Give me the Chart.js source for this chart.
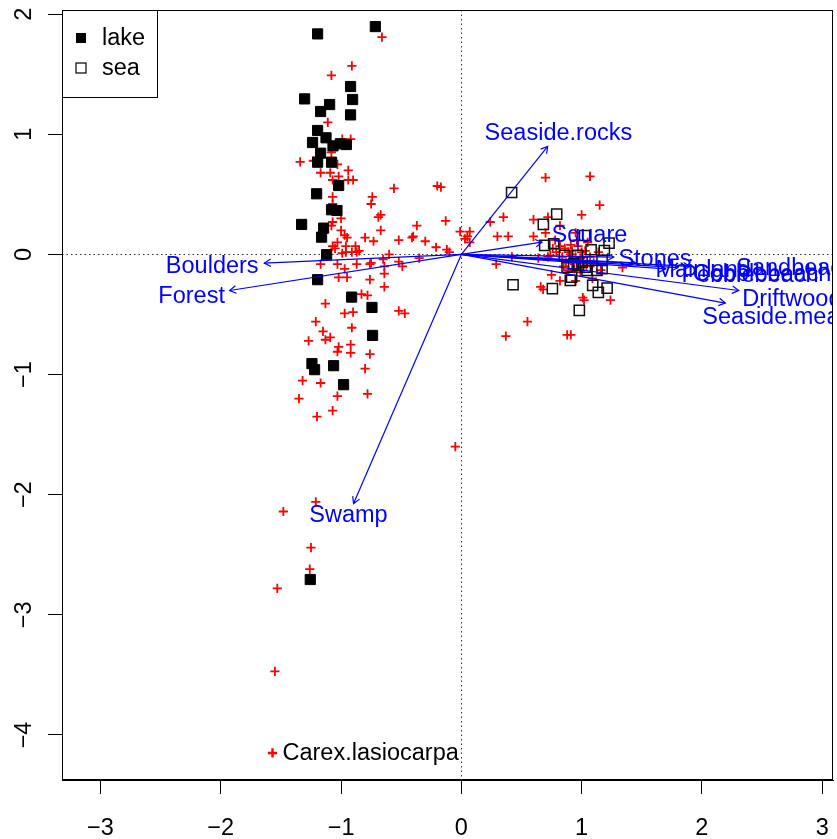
<!DOCTYPE html>
<html><head><meta charset="utf-8">
<script src="https://cdn.jsdelivr.net/npm/chart.js@4/dist/chart.umd.min.js"></script>
<style>html,body{margin:0;padding:0;background:#fff;}#wrap{width:837px;height:839px;}</style>
</head><body><div id="wrap"><canvas id="c" width="837" height="839"></canvas></div>
<script>
// ---- data (ordination scores) ----
const lakeX = [-0.715,-1.195,-0.921,-1.303,-0.904,-1.095,-1.170,-0.921,-1.195,-1.125,-1.237,-1.067,-1.006,-0.956,-1.170,-1.195,-1.079,-1.020,-1.203,-1.079,-1.034,-1.328,-1.145,-1.162,-1.120,-1.195,-0.912,-0.743,-0.738,-1.242,-1.220,-1.062,-0.979,-1.256];
const lakeY = [1.897,1.836,1.398,1.295,1.290,1.248,1.190,1.162,1.032,0.971,0.932,0.904,0.921,0.915,0.843,0.768,0.768,0.574,0.505,0.372,0.366,0.250,0.219,0.144,-0.002,-0.210,-0.355,-0.441,-0.674,-0.909,-0.959,-0.926,-1.084,-2.706];
const seaX = [0.418,0.793,0.682,1.025,0.693,0.768,1.228,1.189,1.079,0.857,0.967,0.975,1.170,1.170,1.128,0.879,0.430,0.757,0.917,0.906,1.092,1.212,1.139,0.981,1.031,1.004,0.934,1.045];
const seaY = [0.516,0.335,0.250,0.158,0.075,0.089,0.094,0.033,0.039,-0.008,-0.008,-0.092,-0.050,-0.119,-0.133,-0.106,-0.252,-0.285,-0.189,-0.216,-0.258,-0.280,-0.316,-0.466,-0.106,-0.064,-0.077,-0.133];
const sppX = [-0.66,-0.91,-1.08,-1.11,-0.92,-0.99,-1.34,-1.23,-1.08,-1.03,-1.17,-1.09,-1.02,-0.94,-1.07,-0.94,-0.90,-0.56,-1.07,-0.74,-0.75,-1.07,-0.69,-0.67,-1.00,-1.07,-1.08,-0.67,-1.00,-0.97,-0.95,-0.80,-0.73,-1.03,-1.07,-0.96,-0.88,-0.96,-0.91,-0.87,-0.99,-1.05,-0.60,-0.65,-0.52,-1.17,-1.03,-0.87,-0.76,-0.97,-0.64,-1.02,-0.95,-0.76,-0.64,-0.83,-0.78,-1.13,-0.52,-0.97,-0.90,-0.91,-1.21,-1.15,-1.09,-1.13,-1.27,-1.02,-0.92,-1.03,-0.92,-0.76,-0.80,-1.32,-1.17,-0.78,-1.03,-1.35,-1.07,-1.20,-0.47,-0.49,-0.52,-0.35,-0.21,-0.12,-0.10,-0.05,-1.21,-1.48,-1.25,-1.26,-1.53,-1.55,-0.20,-0.17,-0.13,-0.37,-0.01,0.07,0.05,0.03,-0.40,-0.41,-0.30,0.07,-0.85,-0.64,-0.75,0.70,1.07,1.15,1.00,0.24,0.35,0.60,0.72,0.82,0.30,0.39,0.60,0.29,0.42,0.64,0.74,0.75,0.66,0.68,1.34,1.01,1.02,1.24,0.55,0.37,0.88,0.91,0.86,0.89,0.92,0.95,0.97,0.99,0.91,0.87,1.01,1.04,0.94,0.91,0.84,0.96,1.07,0.82,0.89,0.99,1.03,0.79,0.76,0.72,1.10,0.85,0.96,1.00,0.91,1.05,0.78,0.95,0.70,1.14,1.16,1.09,0.82,0.95];
const sppY = [1.81,1.57,1.49,1.10,0.96,0.96,0.77,0.78,0.85,0.75,0.68,0.68,0.65,0.70,0.62,0.62,0.62,0.55,0.48,0.48,0.42,0.42,0.31,0.33,0.30,0.27,0.24,0.20,0.20,0.16,0.14,0.14,0.11,0.10,0.07,0.07,0.07,0.02,0.02,0.02,0.01,0.05,0.00,-0.04,0.12,-0.08,-0.08,-0.08,-0.08,-0.12,-0.16,-0.19,-0.19,-0.21,-0.27,-0.33,-0.34,-0.41,-0.47,-0.49,-0.48,-0.61,-0.56,-0.64,-0.69,-0.71,-0.72,-0.77,-0.75,-0.81,-0.82,-0.83,-0.95,-1.05,-1.07,-1.16,-1.18,-1.20,-1.30,-1.35,-0.49,-0.10,-0.06,-0.03,0.06,0.04,0.02,-1.60,-2.06,-2.14,-2.44,-2.62,-2.78,-3.47,0.57,0.56,0.28,0.24,0.19,0.19,0.15,0.13,0.15,0.14,0.11,0.10,0.03,-0.10,-0.07,0.64,0.65,0.41,0.33,0.27,0.31,0.29,0.31,0.24,0.15,0.15,0.15,-0.08,-0.02,-0.03,-0.01,-0.17,-0.27,-0.29,-0.11,-0.36,-0.38,-0.38,-0.56,-0.68,-0.67,-0.67,0.05,0.02,0.03,-0.02,0.07,-0.03,-0.05,-0.07,-0.07,-0.10,-0.12,0.08,-0.02,0.12,-0.02,0.07,-0.13,-0.15,0.03,0.02,0.05,-0.02,-0.07,-0.10,-0.07,0.02,0.00,0.10,0.12,0.18,0.18,0.02,-0.13,-0.20,-0.22,-0.22];
const namedSpp = ['Carex.lasiocarpa'];
const namedSppX = [-1.57];
const namedSppY = [-4.15];
const envNames = ['Seaside.rocks','Boulders','Forest','Swamp','Square','Stones','Mainland','Sandbeach','Pebblebeach','Cobblebeach','Driftwood','Seaside.meadow'];
const envX = [0.718,-1.638,-1.927,-0.896,0.671,1.267,1.45,1.90,1.70,1.80,2.306,2.195];
const envY = [0.900,-0.072,-0.300,-2.074,0.102,-0.022,-0.07,-0.10,-0.12,-0.11,-0.300,-0.405];
const envLabX = [0.807,-2.071,-2.242,-0.938,1.065,1.610,2.01,2.78,2.40,2.50,2.748,2.753];
const envLabY = [1.007,-0.097,-0.350,-2.170,0.160,-0.042,-0.13,-0.12,-0.175,-0.17,-0.371,-0.527];
const xTicks = [-3,-2,-1,0,1,2,3];
const yTicks = [-4,-3,-2,-1,0,1,2];
const legendLabels = ['lake','sea'];

// ---- helpers ----
const FONT = "'Liberation Sans', Arial, Helvetica, sans-serif";
const FS = 23.5;
const fmt = v => (v < 0 ? '\u2212' + Math.abs(v) : String(v));
const pts = (xs, ys) => xs.map((v, i) => ({x: v, y: ys[i]}));

const arrowSets = envNames.map((n, i) => ({
  label: n, data: [{x: 0, y: 0}, {x: envX[i], y: envY[i]}],
  showLine: true, borderColor: '#0000ff', borderWidth: 1.2, pointRadius: 0, order: 0
}));

const biplot = {
  id: 'biplot',
  beforeDatasetsDraw(chart) {
    const {ctx, chartArea: a, scales: {x, y}} = chart;
    ctx.save();
    ctx.strokeStyle = '#333'; ctx.lineWidth = 1; ctx.setLineDash([1.5, 3]);
    const px = Math.round(x.getPixelForValue(0)) + 0.5, py = Math.round(y.getPixelForValue(0)) + 0.5;
    ctx.beginPath();
    ctx.moveTo(a.left, py); ctx.lineTo(a.right, py);
    ctx.moveTo(px, a.top); ctx.lineTo(px, a.bottom);
    ctx.stroke();
    ctx.restore();
  },
  afterDatasetsDraw(chart) {
    const {ctx, chartArea: a, scales: {x, y}} = chart;
    ctx.save();
    ctx.beginPath(); ctx.rect(a.left, a.top, a.right - a.left, a.bottom - a.top); ctx.clip();
    const ox = x.getPixelForValue(0), oy = y.getPixelForValue(0);
    ctx.strokeStyle = '#0000ff'; ctx.lineWidth = 1.2;
    const L = 7.5, th = Math.PI / 6;
    envNames.forEach((n, i) => {
      const ex = x.getPixelForValue(envX[i]), ey = y.getPixelForValue(envY[i]);
      const ang = Math.atan2(ey - oy, ex - ox);
      ctx.beginPath();
      ctx.moveTo(ex - L * Math.cos(ang - th), ey - L * Math.sin(ang - th));
      ctx.lineTo(ex, ey);
      ctx.lineTo(ex - L * Math.cos(ang + th), ey - L * Math.sin(ang + th));
      ctx.stroke();
    });
    ctx.font = FS + 'px ' + FONT;
    ctx.fillStyle = '#0000ff'; ctx.textAlign = 'center'; ctx.textBaseline = 'middle';
    envNames.forEach((n, i) => {
      ctx.fillText(n, x.getPixelForValue(envLabX[i]), y.getPixelForValue(envLabY[i]));
    });
    ctx.fillStyle = '#000'; ctx.textAlign = 'left';
    namedSpp.forEach((n, i) => {
      ctx.fillText(n, x.getPixelForValue(namedSppX[i]) + 10, y.getPixelForValue(namedSppY[i]) + 1);
    });
    ctx.restore();
  },
  afterDraw(chart) {
    const {ctx, chartArea: a} = chart;
    ctx.save();
    ctx.strokeStyle = '#000'; ctx.lineWidth = 1;
    ctx.strokeRect(a.left + 0.5, a.top + 0.5, a.right - a.left - 1, a.bottom - a.top - 1);
    // legend (top-left)
    const lx = a.left + 0.5, ly = a.top + 0.5, lw = 95, lh = 87;
    ctx.fillStyle = '#fff'; ctx.fillRect(lx, ly, lw, lh);
    ctx.strokeRect(lx, ly, lw, lh);
    const sx = a.left + 19, s = 10;
    const rows = [a.top + 28, a.top + 58];
    ctx.fillStyle = '#000';
    ctx.fillRect(sx - s / 2, rows[0] - s / 2, s, s);
    ctx.lineWidth = 1.2;
    ctx.strokeRect(sx - s / 2, rows[1] - s / 2, s, s);
    ctx.font = FS + 'px ' + FONT; ctx.textAlign = 'left'; ctx.textBaseline = 'middle';
    legendLabels.forEach((t, i) => ctx.fillText(t, a.left + 40, rows[i] + 1));
    ctx.restore();
  }
};

const axisCommon = {
  type: 'linear',
  grid: {drawOnChartArea: false, drawTicks: true, tickLength: 14, color: '#000', lineWidth: 1},
  border: {display: true, color: '#000', width: 1},
};

new Chart(document.getElementById('c'), {
  type: 'scatter',
  data: {
    datasets: [
      ...arrowSets,
      {label: 'lake', data: pts(lakeX, lakeY), pointStyle: 'rect', pointRadius: 7.2,
       backgroundColor: '#000', borderColor: '#000', borderWidth: 1, order: 1},
      {label: 'sea', data: pts(seaX, seaY), pointStyle: 'rect', pointRadius: 7.2,
       backgroundColor: 'rgba(0,0,0,0)', borderColor: '#111', borderWidth: 1.5, order: 1},
      {label: 'species', data: pts(sppX, sppY), pointStyle: 'cross', pointRadius: 4.6,
       borderColor: '#ff0000', backgroundColor: '#ff0000', borderWidth: 1.8, order: 2},
      {label: 'named species', data: pts(namedSppX, namedSppY), pointStyle: 'cross', pointRadius: 4.6,
       borderColor: '#ff0000', backgroundColor: '#ff0000', borderWidth: 2.4, order: 2}
    ]
  },
  options: {
    responsive: false, animation: false, devicePixelRatio: 1, events: [],
    layout: {autoPadding: false, padding: {top: 10, right: 4, left: 0, bottom: 0}},
    plugins: {legend: {display: false}, tooltip: {enabled: false}},
    scales: {
      x: {...axisCommon, min: -3.32, max: 3.09,
        afterBuildTicks: s => { s.ticks = xTicks.map(v => ({value: v})); },
        afterFit: s => { s.height = 59; s.paddingLeft = 0; s.paddingRight = 0; },
        ticks: {color: '#000', font: {family: FONT, size: FS}, padding: 20, maxRotation: 0, minRotation: 0,
          callback: v => fmt(v)}},
      y: {...axisCommon, min: -4.375, max: 2.035,
        afterBuildTicks: s => { s.ticks = yTicks.map(v => ({value: v})); },
        afterFit: s => { s.width = 62; s.paddingTop = 0; s.paddingBottom = 0; },
        ticks: {color: '#000', font: {family: FONT, size: FS}, padding: 10, minRotation: 90, maxRotation: 90,
          crossAlign: 'center', callback: v => fmt(v)}}
    }
  },
  plugins: [biplot]
});
</script></body></html>
